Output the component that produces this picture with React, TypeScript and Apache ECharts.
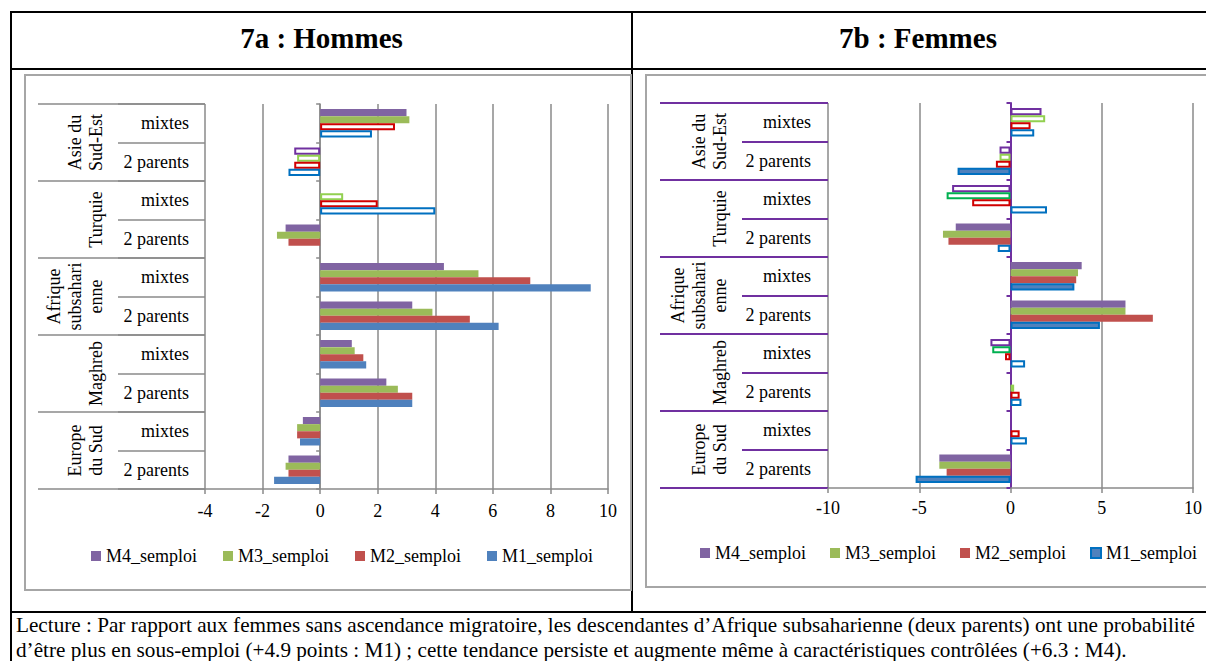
import React, { useEffect, useRef } from "react";
import * as echarts from "echarts";

// ---------- data ----------
const groupNames = ["Asie du Sud-Est", "Turquie", "Afrique subsaharienne", "Maghreb", "Europe du Sud"];
const groupLabels = ["Asie du\nSud-Est", "Turquie", "Afrique\nsubsahari\nenne", "Maghreb", "Europe\ndu Sud"];
const subTypes = ["mixtes", "2 parents"];
const seriesNames = ["M4_semploi", "M3_semploi", "M2_semploi", "M1_semploi"];

// categories listed from top to bottom
const categories = groupNames.flatMap((g) => subTypes.map((s) => g + " / " + s));
const categorySub = groupNames.flatMap(() => subTypes);

// 7a : Hommes
const menM4 = [3.0, -0.9, null, -1.2, 4.3, 3.2, 1.1, 2.3, -0.6, -1.1];
const menM3 = [3.1, -0.8, 0.8, -1.5, 5.5, 3.9, 1.2, 2.7, -0.8, -1.2];
const menM2 = [2.6, -0.9, 2.0, -1.1, 7.3, 5.2, 1.5, 3.2, -0.8, -1.1];
const menM1 = [1.8, -1.1, 4.0, null, 9.4, 6.2, 1.6, 3.2, -0.7, -1.6];
// 1 = significant (filled bar), 0 = not significant (hollow bar)
const menM4Sig = [1, 0, 0, 1, 1, 1, 1, 1, 1, 1];
const menM3Sig = [1, 0, 0, 1, 1, 1, 1, 1, 1, 1];
const menM2Sig = [0, 0, 0, 1, 1, 1, 1, 1, 1, 1];
const menM1Sig = [0, 0, 0, 1, 1, 1, 1, 1, 1, 1];
const menTicks = [-4, -2, 0, 2, 4, 6, 8, 10];

// 7b : Femmes
const womenM4 = [1.7, -0.6, -3.2, -3.0, 3.9, 6.3, -1.1, null, null, -3.9];
const womenM3 = [1.9, -0.6, -3.5, -3.7, 3.7, 6.3, -1.0, 0.2, null, -3.9];
const womenM2 = [1.1, -0.8, -2.1, -3.4, 3.6, 7.8, -0.3, 0.5, 0.5, -3.5];
const womenM1 = [1.3, -2.9, 2.0, -0.7, 3.5, 4.9, 0.8, 0.6, 0.9, -5.2];
const womenM4Sig = [0, 0, 0, 1, 1, 1, 0, 0, 0, 1];
const womenM3Sig = [0, 0, 0, 1, 1, 1, 0, 0, 0, 1];
const womenM2Sig = [0, 0, 0, 1, 1, 1, 0, 0, 0, 1];
const womenM1Sig = [0, 1, 0, 0, 1, 1, 0, 0, 0, 1];
const womenTicks = [-10, -5, 0, 5, 10];

const titleMen = "7a : Hommes";
const titleWomen = "7b : Femmes";
const lectureLine1 =
  "Lecture : Par rapport aux femmes sans ascendance migratoire, les descendantes d\u2019Afrique subsaharienne (deux parents) ont une probabilit\u00e9";
const lectureLine2 =
  "d\u2019\u00eatre plus en sous-emploi (+4.9 points : M1) ; cette tendance persiste et augmente m\u00eame \u00e0 caract\u00e9ristiques contr\u00f4l\u00e9es (+6.3 : M4).";

// ---------- styles ----------
const FONT = '"Liberation Serif", "Times New Roman", serif';
const SOLID = ["#8064A2", "#9BBB59", "#C0504D", "#4F81BD"];
const HOLLOW = ["#7030A0", "#92D050", "#D00000", "#0070C0"];
const DARK_GREEN = "#00B050";
const womenM3DarkRows = [2, 6]; // outline drawn in a darker green in the source
const GRAY = "#8a8a8a";
const PURPLE = "#7030A0";

function barData(
  values: (number | null)[],
  sig: number[],
  k: number,
  solidBorder: boolean,
  darkRows: number[] = []
) {
  return values.map((v, i) => {
    if (v === null) return "-";
    if (sig[i]) {
      return solidBorder
        ? { value: v, itemStyle: { color: SOLID[k], borderColor: "#0070C0", borderWidth: 2 } }
        : { value: v, itemStyle: { color: SOLID[k] } };
    }
    const border = darkRows.indexOf(i) >= 0 ? DARK_GREEN : HOLLOW[k];
    return { value: v, itemStyle: { color: "#ffffff", borderColor: border, borderWidth: 2 } };
  });
}

function xAxisOf(gridIndex: number, ticks: number[], margin: number) {
  return {
    type: "value",
    gridIndex,
    min: ticks[0],
    max: ticks[ticks.length - 1],
    interval: ticks[1] - ticks[0],
    axisLine: { show: true, onZero: false, lineStyle: { color: GRAY, width: 1.5 } },
    axisTick: { show: true, length: 5, lineStyle: { color: GRAY, width: 1.5 } },
    axisLabel: { margin, fontSize: 18, color: "#000", fontFamily: FONT },
    splitLine: { show: true, lineStyle: { color: GRAY, width: 1.5 } },
  };
}

function subAxis(gridIndex: number, color: string, width: number, len: number, margin: number) {
  return {
    type: "category",
    gridIndex,
    data: categories,
    inverse: true,
    position: "left",
    axisLine: { show: false, onZero: false },
    axisTick: { show: true, interval: 0, length: len, lineStyle: { color, width } },
    axisLabel: {
      interval: 0,
      margin,
      fontSize: 18,
      color: "#000",
      fontFamily: FONT,
      formatter: (_v: string, i: number) => categorySub[i],
    },
    splitLine: { show: false },
  };
}

function groupAxis(gridIndex: number, color: string, width: number, len: number, margin: number) {
  return {
    type: "category",
    gridIndex,
    data: groupLabels,
    inverse: true,
    position: "left",
    axisLine: { show: false, onZero: false },
    axisTick: { show: true, interval: 0, length: len, lineStyle: { color, width } },
    axisLabel: {
      interval: 0,
      rotate: 90,
      margin,
      fontSize: 18,
      lineHeight: 21,
      color: "#000",
      fontFamily: FONT,
    },
    splitLine: { show: false },
  };
}

function zeroAxis(gridIndex: number, color: string, width: number) {
  return {
    type: "category",
    gridIndex,
    data: categories,
    inverse: true,
    position: "left",
    axisLine: { show: true, onZero: true, lineStyle: { color, width } },
    axisTick: { show: true, interval: 0, length: 4, lineStyle: { color, width } },
    axisLabel: { show: false },
    splitLine: { show: false },
  };
}

function legendOf(left: number, top: number, gap: number, m1Border: boolean) {
  return {
    left,
    top,
    padding: 0,
    itemGap: gap,
    itemWidth: 10,
    itemHeight: 10,
    icon: "rect",
    selectedMode: false,
    textStyle: { fontSize: 18, color: "#000", fontFamily: FONT },
    data: seriesNames.map((n, k) => ({
      name: n,
      itemStyle:
        k === 3 && m1Border
          ? { color: SOLID[k], borderColor: "#0070C0", borderWidth: 2 }
          : { color: SOLID[k], borderWidth: 0 },
    })),
  };
}

const line = (x1: number, y1: number, x2: number, y2: number, stroke = "#000", lineWidth = 2) => ({
  type: "line",
  shape: { x1, y1, x2, y2 },
  style: { stroke, lineWidth },
  silent: true,
});

export default function App() {
  const ref = useRef<HTMLDivElement>(null);

  useEffect(() => {
    if (!ref.current) return;
    const chart = echarts.init(ref.current, undefined, { renderer: "svg" });

    const men = [menM4, menM3, menM2, menM1];
    const menSig = [menM4Sig, menM3Sig, menM2Sig, menM1Sig];
    const women = [womenM4, womenM3, womenM2, womenM1];
    const womenSig = [womenM4Sig, womenM3Sig, womenM2Sig, womenM1Sig];

    const series: any[] = [];
    seriesNames.forEach((name, k) => {
      series.push({
        type: "bar",
        name,
        xAxisIndex: 0,
        yAxisIndex: 0,
        data: barData(men[k], menSig[k], k, false),
        barGap: "0%",
        barCategoryGap: "26%",
        itemStyle: { color: SOLID[k] },
        silent: true,
      });
    });
    seriesNames.forEach((name, k) => {
      series.push({
        type: "bar",
        name,
        xAxisIndex: 1,
        yAxisIndex: 3,
        data: barData(women[k], womenSig[k], k, k === 3, k === 1 ? womenM3DarkRows : []),
        barGap: "0%",
        barCategoryGap: "26%",
        itemStyle: { color: SOLID[k] },
        silent: true,
      });
    });

    const option: any = {
      animation: false,
      textStyle: { fontFamily: FONT, color: "#000" },
      grid: [
        { left: 205, top: 104, width: 403, height: 385 },
        { left: 828, top: 103, width: 365, height: 385 },
      ],
      xAxis: [xAxisOf(0, menTicks, 13), xAxisOf(1, womenTicks, 11)],
      yAxis: [
        subAxis(0, GRAY, 1.5, 87, 16),
        groupAxis(0, GRAY, 1.5, 167, 99),
        zeroAxis(0, GRAY, 1.5),
        subAxis(1, PURPLE, 2, 86, 17),
        groupAxis(1, PURPLE, 2, 168, 98),
        zeroAxis(1, PURPLE, 2),
      ],
      legend: [legendOf(91, 547, 26, false), legendOf(700, 544, 24, true)],
      series,
      graphic: [
        // outer table
        line(11, 12, 1206, 12),
        line(11, 69, 1206, 69),
        line(11, 612, 1206, 612),
        line(11, 11, 11, 661),
        line(632, 12, 632, 612),
        // chart frames
        {
          type: "rect",
          shape: { x: 25, y: 75, width: 606, height: 515 },
          style: { fill: "none", stroke: "#a6a6a6", lineWidth: 2 },
          silent: true,
        },
        {
          type: "rect",
          shape: { x: 646, y: 75, width: 620, height: 512 },
          style: { fill: "none", stroke: "#a6a6a6", lineWidth: 2 },
          silent: true,
        },
        // titles
        {
          type: "text",
          x: 321.5,
          y: 38,
          style: {
            text: titleMen,
            fontSize: 29,
            fontWeight: "bold",
            fontFamily: FONT,
            fill: "#000",
            align: "center",
            verticalAlign: "middle",
          },
        },
        {
          type: "text",
          x: 918,
          y: 38,
          style: {
            text: titleWomen,
            fontSize: 29,
            fontWeight: "bold",
            fontFamily: FONT,
            fill: "#000",
            align: "center",
            verticalAlign: "middle",
          },
        },
        // lecture
        {
          type: "text",
          x: 16,
          y: 625,
          style: { text: lectureLine1, fontSize: 21.2, fontFamily: FONT, fill: "#000", align: "left", verticalAlign: "middle" },
        },
        {
          type: "text",
          x: 16,
          y: 650,
          style: { text: lectureLine2, fontSize: 21.2, fontFamily: FONT, fill: "#000", align: "left", verticalAlign: "middle" },
        },
      ],
    };

    chart.setOption(option);
    return () => chart.dispose();
  }, []);

  return (
    <div
      ref={ref}
      style={{ position: "absolute", left: 0, top: 0, width: 1206, height: 661, background: "#fff" }}
    />
  );
}
